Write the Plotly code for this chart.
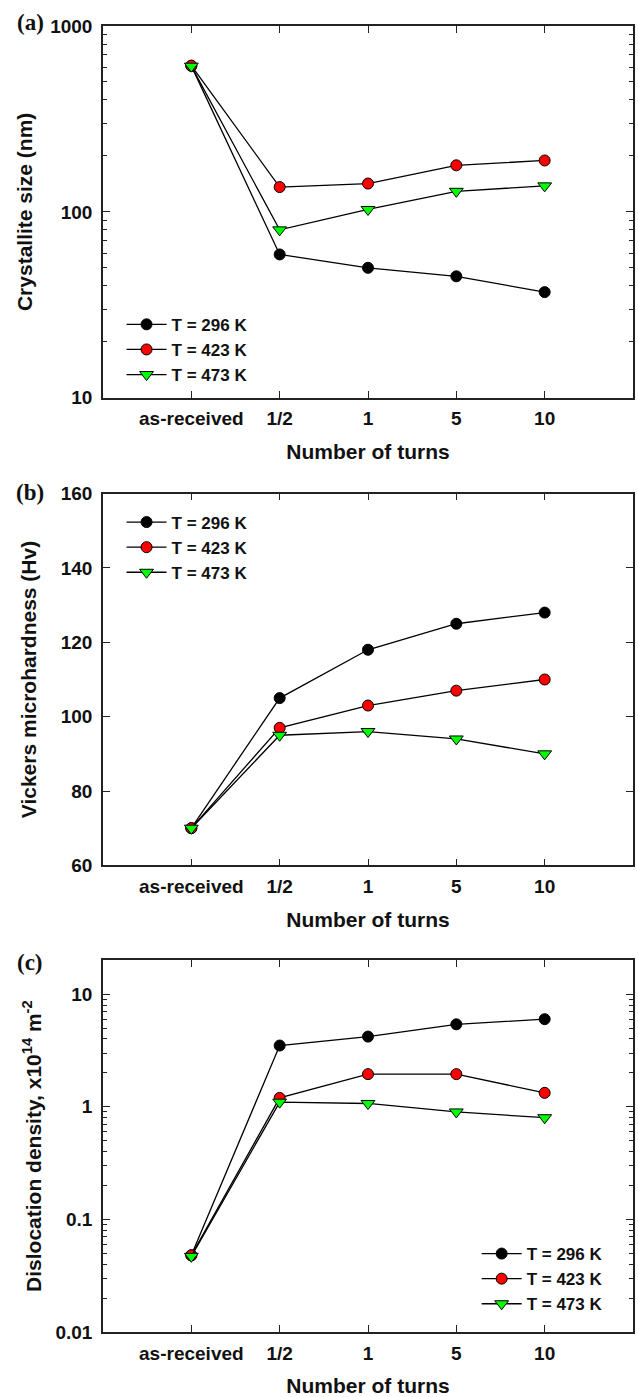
import plotly.graph_objects as go

# ---------------- data ----------------
categories = ["as-received", "1/2", "1", "5", "10"]
series_names = ["T = 296 K", "T = 423 K", "T = 473 K"]

# (a) Crystallite size (nm)
size_296 = [610, 59, 50, 45, 37]
size_423 = [612, 136, 142, 178, 189]
size_473 = [608, 80, 103, 129, 138]

# (b) Vickers microhardness (Hv)
hv_296 = [70, 105, 118, 125, 128]
hv_423 = [70, 97, 103, 107, 110]
hv_473 = [70, 95, 96, 94, 90]

# (c) Dislocation density, x10^14 m^-2
rho_296 = [0.048, 3.5, 4.2, 5.4, 6.0]
rho_423 = [0.048, 1.2, 1.95, 1.95, 1.33]
rho_473 = [0.047, 1.1, 1.07, 0.9, 0.8]

# minor log tick positions (axis decoration)
minor_a = [m * d for d in (10, 100) for m in range(2, 10)]
minor_c = [round(m * d, 4) for d in (0.01, 0.1, 1) for m in range(2, 10)]

# ---------------- style ----------------
marker_colors = ["#000000", "#ff0000", "#00ff00"]
marker_symbols = ["circle", "circle", "triangle-down"]
marker_sizes = [11, 11, 12]
SANS = "Arial, Liberation Sans, Helvetica, sans-serif"
SERIF = "Times New Roman, Liberation Serif, serif"
AXC = "#222222"

fig = go.Figure()

panels = [
    ([size_296, size_423, size_473], "x", "y", "legend"),
    ([hv_296, hv_423, hv_473], "x2", "y2", "legend2"),
    ([rho_296, rho_423, rho_473], "x3", "y3", "legend3"),
]
for values, xa, ya, lg in panels:
    for i, vals in enumerate(values):
        fig.add_trace(go.Scatter(
            x=categories, y=vals, name=series_names[i],
            mode="lines+markers", xaxis=xa, yaxis=ya, legend=lg,
            line=dict(color="#000000", width=1.3),
            marker=dict(color=marker_colors[i], symbol=marker_symbols[i],
                        size=marker_sizes[i],
                        line=dict(color="#000000", width=1)),
        ))

tickfont = dict(family=SANS, size=19, color="#111111", weight="bold")
titlefont = dict(family=SANS, size=21, color="#111111", weight="bold")
legfont = dict(family=SANS, size=17, color="#111111", weight="bold")

def xaxis(domain_anchor):
    return dict(
        type="category", categoryorder="array", categoryarray=categories,
        range=[-1, 5], anchor=domain_anchor,
        showline=True, linecolor=AXC, linewidth=1.5, mirror="ticks",
        ticks="inside", ticklen=7, tickwidth=1.3, tickcolor=AXC,
        tickfont=tickfont, ticklabelstandoff=3,
        showgrid=False, zeroline=False,
        title=dict(text="Number of turns", font=titlefont, standoff=16),
    )

def yaxis(anchor, domain, **kw):
    d = dict(
        anchor=anchor, domain=domain,
        showline=True, linecolor=AXC, linewidth=1.5, mirror="ticks",
        ticks="inside", ticklen=7, tickwidth=1.3, tickcolor=AXC,
        tickfont=tickfont, ticklabelstandoff=5,
        showgrid=False, zeroline=False,
    )
    d.update(kw)
    return d

def minor(vals):
    return dict(tickmode="array", tickvals=vals, ticks="inside", ticklen=4,
                tickwidth=1.2, tickcolor=AXC, showgrid=False)

def legend(x, y):
    return dict(x=x, y=y, xanchor="left", yanchor="top", font=legfont,
                itemwidth=40, tracegroupgap=0,
                bgcolor="rgba(0,0,0,0)", borderwidth=0)

fig.update_layout(
    width=638, height=1397,
    margin=dict(l=103, r=3, t=26, b=64),
    paper_bgcolor="white", plot_bgcolor="white",
    font=dict(family=SANS, color="#111111"),
    xaxis=xaxis("y"), xaxis2=xaxis("y2"), xaxis3=xaxis("y3"),
    yaxis=yaxis("x", [0.71538, 1.0], type="log", range=[1, 3], dtick=1,
                exponentformat="none", minor=minor(minor_a),
                title=dict(text="Crystallite size (nm)", font=titlefont, standoff=12)),
    yaxis2=yaxis("x2", [0.35731, 0.64193], range=[60, 160], dtick=20,
                 title=dict(text="Vickers microhardness (Hv)", font=titlefont, standoff=18)),
    yaxis3=yaxis("x3", [0.0, 0.28462], type="log", range=[-2, 1.30103], dtick=1,
                 exponentformat="none", minor=minor(minor_c),
                 title=dict(text="Dislocation density, x10<sup>14</sup> m<sup>-2</sup>",
                            font=titlefont, standoff=8)),
    legend=legend(0.035, 0.7850),
    legend2=legend(0.035, 0.6336),
    legend3=legend(0.705, 0.0735),
    showlegend=True,
)

for lbl, yy in [("(a)", 1.0023), ("(b)", 0.6427), ("(c)", 0.2831)]:
    fig.add_annotation(text="<b>%s</b>" % lbl, xref="paper", yref="paper",
                       x=-0.137, y=yy, xanchor="center", yanchor="middle",
                       showarrow=False,
                       font=dict(family=SERIF, size=23, color="#111111"))

fig.write_html("out.html")
